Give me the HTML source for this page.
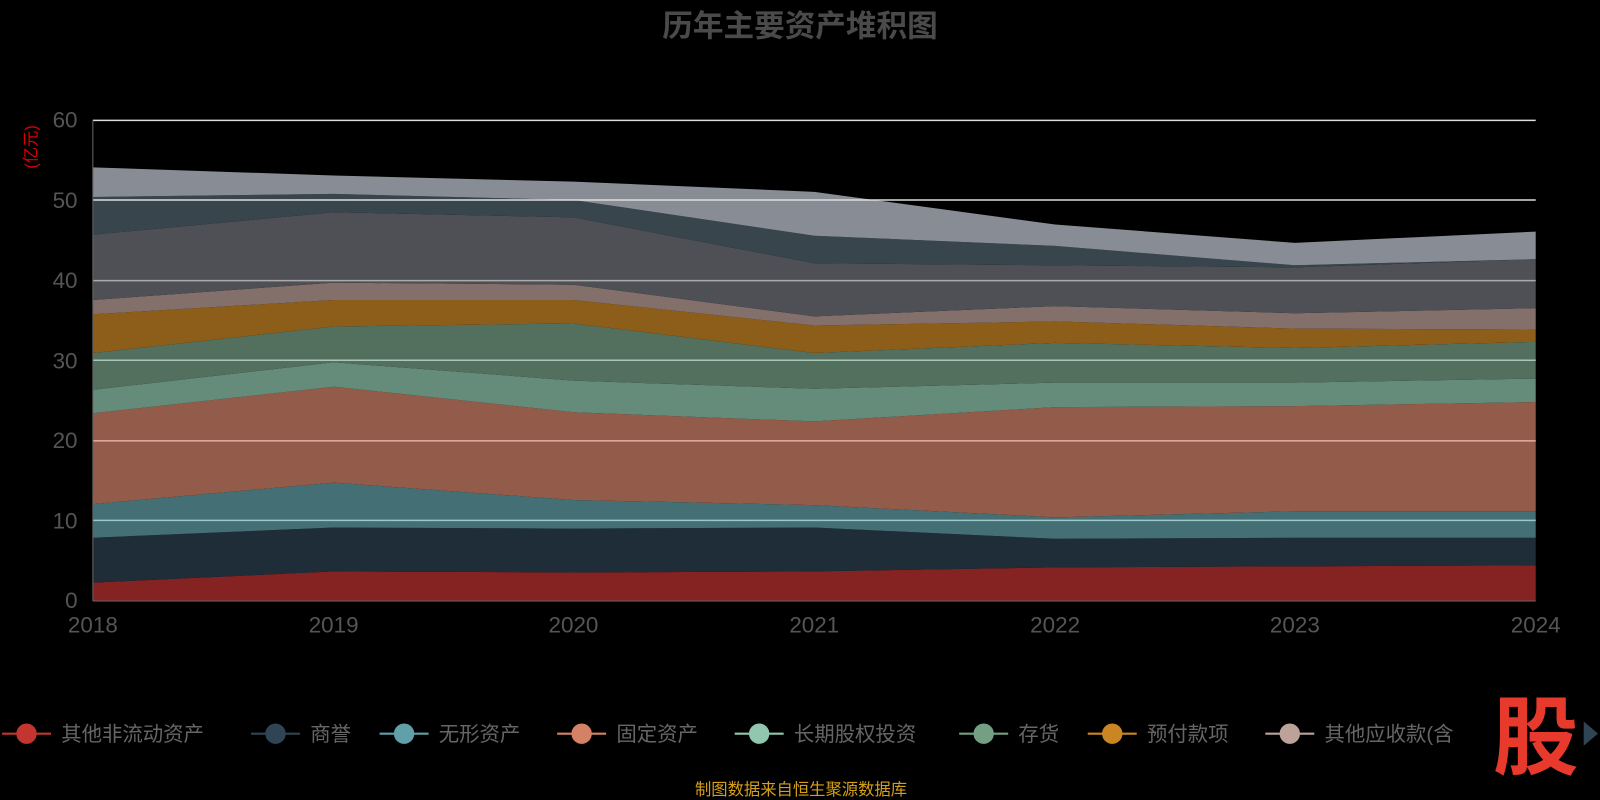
<!DOCTYPE html><html><head><meta charset="utf-8"><style>
body{margin:0;background:#000;width:1600px;height:800px;overflow:hidden;font-family:"Liberation Sans","Noto Sans CJK SC",sans-serif}
svg{display:block}
</style></head><body>
<svg width="1600" height="800" viewBox="0 0 1568 784" preserveAspectRatio="none" xmlns="http://www.w3.org/2000/svg" font-family="Liberation Sans, Noto Sans CJK SC, sans-serif">
<rect width="1568" height="784" fill="#000"/>
<text x="784" y="36" text-anchor="middle" font-size="30" font-weight="bold" fill="#4a4a4a">历年主要资产堆积图</text>
<text transform="translate(36,144) rotate(-90)" text-anchor="middle" font-size="16" fill="#d00">(亿元)</text>
<g id="areas"></g>
<g font-size="22" fill="#555" text-anchor="end">
<text x="76" y="125">60</text><text x="76" y="204">50</text><text x="76" y="282">40</text><text x="76" y="361">30</text><text x="76" y="439">20</text><text x="76" y="518">10</text><text x="76" y="596">0</text></g>
<g font-size="22" fill="#555" text-anchor="middle">
<text x="91" y="620">2018</text><text x="327" y="620">2019</text><text x="562" y="620">2020</text><text x="798" y="620">2021</text><text x="1034" y="620">2022</text><text x="1269" y="620">2023</text><text x="1505" y="620">2024</text></g>
<g font-size="20" fill="#666">
<line x1="2" y1="719" x2="50" y2="719" stroke="#c23531" stroke-width="2"/><circle cx="26" cy="719" r="10" fill="#c23531"/><text x="60" y="726">其他非流动资产</text>
<line x1="246" y1="719" x2="294" y2="719" stroke="#2f4554" stroke-width="2"/><circle cx="270" cy="719" r="10" fill="#2f4554"/><text x="304" y="726">商誉</text>
<line x1="372" y1="719" x2="420" y2="719" stroke="#61a0a8" stroke-width="2"/><circle cx="396" cy="719" r="10" fill="#61a0a8"/><text x="430" y="726">无形资产</text>
<line x1="546" y1="719" x2="594" y2="719" stroke="#d48265" stroke-width="2"/><circle cx="570" cy="719" r="10" fill="#d48265"/><text x="604" y="726">固定资产</text>
<line x1="720" y1="719" x2="768" y2="719" stroke="#91c7ae" stroke-width="2"/><circle cx="744" cy="719" r="10" fill="#91c7ae"/><text x="778" y="726">长期股权投资</text>
<line x1="940" y1="719" x2="988" y2="719" stroke="#749f83" stroke-width="2"/><circle cx="964" cy="719" r="10" fill="#749f83"/><text x="998" y="726">存货</text>
<line x1="1066" y1="719" x2="1114" y2="719" stroke="#ca8622" stroke-width="2"/><circle cx="1090" cy="719" r="10" fill="#ca8622"/><text x="1124" y="726">预付款项</text>
<line x1="1240" y1="719" x2="1288" y2="719" stroke="#bda29a" stroke-width="2"/><circle cx="1264" cy="719" r="10" fill="#bda29a"/><text x="1298" y="726">其他应收款(含</text>
</g>
<rect x="1462" y="676" width="90" height="80" fill="#000"/>
<text x="1505" y="752" text-anchor="middle" font-size="84" font-weight="bold" fill="#e8392d">股</text>
<polygon points="1552,707 1566,719 1552,731" fill="#2f4554"/>
<text x="785" y="779" text-anchor="middle" font-size="16" fill="#d4a017">制图数据来自恒生聚源数据库</text>
</svg>
<script>
var X=[91,327,562,798,1034,1269,1505];
var B=[589,589,589,589,589,589,589];
var L=[[571,560,561,560,556,555,554],[527,517,518,517,528,527,527],[494,473,490,495,507,501,501],[405,379,404,413,399,398,394],[382,355,373,381,375,375,371],[346,320,317,346,336,341,335],[308,294,294,319,315,322,323],[294,277,279,310,300,307,302],[230,208,213,258,260,262,254],[193,190,196,231,241,260,254],[164,172,178,188,220,238,227]];
var C=["#852222","#1f2d38","#436f75","#935c4a","#658b7a","#52705d","#8d5e1a","#83706b","#4e5055","#38454d","#888d95"];
var g=document.getElementById('areas'),prev=B,s="";
for(var i=0;i<L.length;i++){var p=[];for(var j=0;j<7;j++)p.push(X[j]+","+L[i][j]);for(var j=6;j>=0;j--)p.push(X[j]+","+prev[j]);s+='<polygon points="'+p.join(" ")+'" fill="'+C[i]+'"/>';prev=L[i];}
var gy=[118,196,275,353,432,510];var gcol=["#ddd","#ddd","#aaa","#aac8b8","#d8a898","#9cc8cc"];
for(var k=0;k<6;k++)s+='<line x1="91" x2="1505" y1="'+gy[k]+'" y2="'+gy[k]+'" stroke="'+gcol[k]+'" stroke-width="1.5"/>';
s+='<line x1="91" x2="91" y1="118" y2="589" stroke="#666"/><line x1="91" x2="1505" y1="589" y2="589" stroke="#666"/>';
g.innerHTML=s;
</script>
</body></html>
